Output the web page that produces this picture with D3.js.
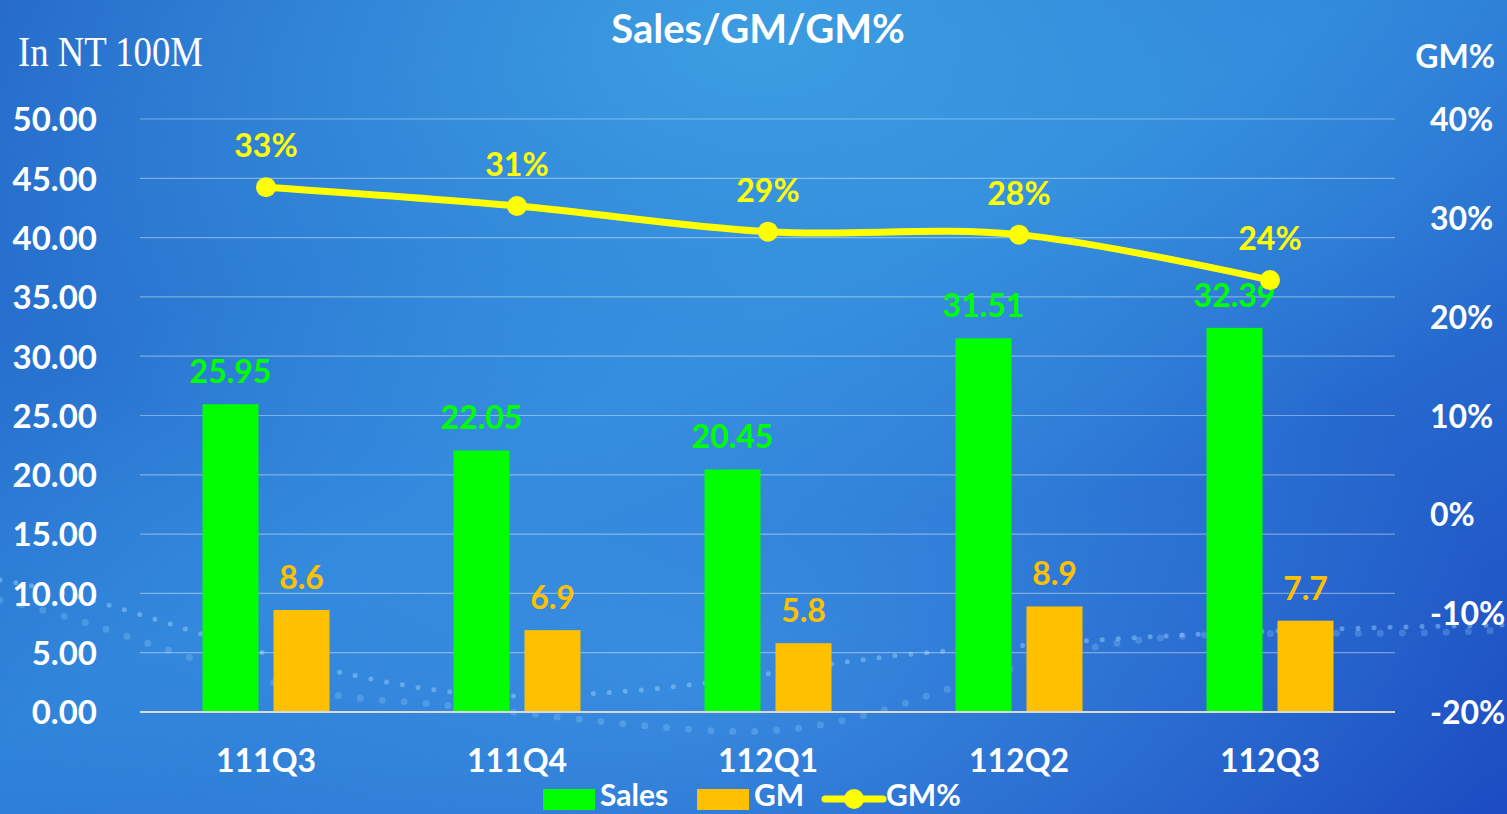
<!DOCTYPE html>
<html>
<head>
<meta charset="utf-8">
<script src="https://cdn.jsdelivr.net/npm/d3@7"></script>
<style>
html,body{margin:0;padding:0;overflow:hidden;background:#2a74d2;}
svg{display:block;}
</style>
</head>
<body>
<svg id="chart" width="1507" height="814"></svg>
<script>
const categories = ["111Q3","111Q4","112Q1","112Q2","112Q3"];
const sales = [25.95, 22.05, 20.45, 31.51, 32.39];
const gm = [8.6, 6.9, 5.8, 8.9, 7.7];
const gmPct = [0.331, 0.312, 0.286, 0.283, 0.237];
const leftTicks = [0,5,10,15,20,25,30,35,40,45,50];
const rightTicks = [-0.2,-0.1,0,0.1,0.2,0.3,0.4];
const seriesNames = ["Sales","GM"];

const W = 1507, H = 814;
const svg = d3.select("#chart");
const defs = svg.append("defs");
const pct = d => d3.format(".0%")(d).replace("\u2212","-");

// background
const lg = defs.append("linearGradient").attr("id","bg").attr("x1",0).attr("y1",0).attr("x2",1).attr("y2",1);
lg.append("stop").attr("offset","0%").attr("stop-color","#2262c6");
lg.append("stop").attr("offset","45%").attr("stop-color","#2d80d8");
lg.append("stop").attr("offset","100%").attr("stop-color","#1d4cc2");
svg.append("rect").attr("width",W).attr("height",H).attr("fill","url(#bg)");
const rg = defs.append("radialGradient").attr("id","glow").attr("cx","0.5").attr("cy","0.05").attr("r","0.6");
rg.append("stop").attr("offset","0%").attr("stop-color","#3ea2e4").attr("stop-opacity",0.9);
rg.append("stop").attr("offset","100%").attr("stop-color","#3ea2e4").attr("stop-opacity",0);
svg.append("rect").attr("width",W).attr("height",H).attr("fill","url(#glow)");
const rg2 = defs.append("radialGradient").attr("id","glow2").attr("cx","0.45").attr("cy","0.82").attr("r","0.55");
rg2.append("stop").attr("offset","0%").attr("stop-color","#46a6ec").attr("stop-opacity",0.55);
rg2.append("stop").attr("offset","100%").attr("stop-color","#46a6ec").attr("stop-opacity",0);
svg.append("rect").attr("width",W).attr("height",H).attr("fill","url(#glow2)");
// decorative dotted waves
const deco = svg.append("g").attr("fill","none").attr("stroke","#9fd8ff").attr("stroke-linecap","round");
deco.append("path").attr("d","M0,580 C120,600 200,640 330,670 S520,700 640,690 S820,660 960,650 S1200,630 1507,625")
  .attr("stroke-width",5).attr("stroke-dasharray","0 16").attr("opacity",0.45);
deco.append("path").attr("d","M0,600 C140,630 240,690 380,700 S560,720 700,730 S900,700 1040,660 S1300,640 1507,630")
  .attr("stroke-width",7).attr("stroke-dasharray","0 22").attr("opacity",0.25);

// scales
const x0 = d3.scaleBand().domain(categories).range([140.5, 1395.5]).padding(0);
const x1 = d3.scaleBand().domain(seriesNames).range([-63.5, 63.5]).paddingInner(15/71).paddingOuter(0);
const yL = d3.scaleLinear().domain([0,50]).range([712,119]);
const yR = d3.scaleLinear().domain([-0.2,0.4]).range([712,119]);

const font = "Lato, 'Open Sans', sans-serif";

// gridlines
svg.append("g").selectAll("line").data(leftTicks.filter(d=>d>0)).join("line")
  .attr("x1",140).attr("x2",1395).attr("y1",d=>yL(d)).attr("y2",d=>yL(d))
  .attr("stroke","rgba(255,255,255,0.38)").attr("stroke-width",1.2);

// left axis
const gL = svg.append("g").attr("transform","translate(97,0)")
  .call(d3.axisLeft(yL).tickValues(leftTicks).tickFormat(d3.format(".2f")).tickSize(0).tickPadding(0));
gL.select(".domain").remove();
gL.selectAll("text").attr("fill","#fff").style("font-family",font).style("font-weight","700").style("font-size","33px").attr("dy","0.36em");

// right axis
const gR = svg.append("g").attr("transform","translate(1430,0)")
  .call(d3.axisRight(yR).tickValues(rightTicks).tickFormat(pct).tickSize(0).tickPadding(0));
gR.select(".domain").remove();
gR.selectAll("text").attr("fill","#fff").style("font-family",font).style("font-weight","700").style("font-size","32px").attr("dy","0.36em");

// bars
const groups = svg.append("g").selectAll("g").data(categories).join("g")
  .attr("transform",d=>`translate(${x0(d)+x0.bandwidth()/2},0)`);
groups.append("rect").attr("x",x1("Sales")).attr("width",x1.bandwidth())
  .attr("y",(d,i)=>yL(sales[i])).attr("height",(d,i)=>yL(0)-yL(sales[i])).attr("fill","#00ff00");
groups.append("rect").attr("x",x1("GM")).attr("width",x1.bandwidth())
  .attr("y",(d,i)=>yL(gm[i])).attr("height",(d,i)=>yL(0)-yL(gm[i])).attr("fill","#ffc000");

// baseline
svg.append("line").attr("x1",140).attr("x2",1395).attr("y1",yL(0)).attr("y2",yL(0))
  .attr("stroke","#d9d9d9").attr("stroke-width",2);

// bar labels
groups.append("text").attr("x",x1("Sales")+x1.bandwidth()/2).attr("y",(d,i)=>yL(sales[i])-21)
  .attr("text-anchor","middle").attr("fill","#00ff00").style("font-family",font).style("font-weight","700").style("font-size","32px")
  .text((d,i)=>sales[i].toFixed(2));
groups.append("text").attr("x",x1("GM")+x1.bandwidth()/2).attr("y",(d,i)=>yL(gm[i])-21)
  .attr("text-anchor","middle").attr("fill","#ffc000").style("font-family",font).style("font-weight","700").style("font-size","32px")
  .text((d,i)=>gm[i].toFixed(1));

// line
const cx = d => x0(d)+x0.bandwidth()/2;
const line = d3.line().x((d,i)=>cx(categories[i])).y(d=>yR(d)).curve(d3.curveCatmullRom.alpha(0));
svg.append("path").datum(gmPct).attr("d",line).attr("fill","none").attr("stroke","#ffff00").attr("stroke-width",7).attr("stroke-linecap","round");
svg.append("g").selectAll("circle").data(gmPct).join("circle")
  .attr("cx",(d,i)=>cx(categories[i])).attr("cy",d=>yR(d)).attr("r",10).attr("fill","#ffff00");
svg.append("g").selectAll("text").data(gmPct).join("text")
  .attr("x",(d,i)=>cx(categories[i])).attr("y",d=>yR(d)-30)
  .attr("text-anchor","middle").attr("fill","#ffff00").style("font-family",font).style("font-weight","700").style("font-size","32px")
  .text(d=>pct(d));

// category axis
const gX = svg.append("g").attr("transform",`translate(0,${yL(0)})`)
  .call(d3.axisBottom(x0).tickSize(0).tickPadding(0));
gX.select(".domain").remove();
gX.selectAll("text").attr("fill","#fff").style("font-family",font).style("font-weight","700").style("font-size","32px").attr("dy","0").attr("y",60);

// titles
svg.append("text").attr("x",758).attr("y",43).attr("text-anchor","middle").attr("fill","#fff")
  .style("font-family",font).style("font-weight","700").style("font-size","40px").text("Sales/GM/GM%");
svg.append("text").attr("x",18).attr("y",66).attr("fill","#fff")
  .style("font-family","'Liberation Serif', 'DejaVu Serif', serif").style("font-size","43px")
  .attr("textLength",185).attr("lengthAdjust","spacingAndGlyphs").text("In NT 100M");
svg.append("text").attr("x",1495).attr("y",68).attr("text-anchor","end").attr("fill","#fff")
  .style("font-family",font).style("font-weight","700").style("font-size","32px").text("GM%");

// legend
const leg = svg.append("g");
leg.append("rect").attr("x",543).attr("y",789).attr("width",52).attr("height",21).attr("fill","#00ff00");
leg.append("text").attr("x",600).attr("y",806).attr("fill","#fff").style("font-family",font).style("font-weight","700").style("font-size","30px").text("Sales");
leg.append("rect").attr("x",697).attr("y",789).attr("width",52).attr("height",21).attr("fill","#ffc000");
leg.append("text").attr("x",754).attr("y",806).attr("fill","#fff").style("font-family",font).style("font-weight","700").style("font-size","30px").text("GM");
leg.append("line").attr("x1",825).attr("x2",883).attr("y1",799).attr("y2",799).attr("stroke","#ffff00").attr("stroke-width",7).attr("stroke-linecap","round");
leg.append("circle").attr("cx",854).attr("cy",799).attr("r",10).attr("fill","#ffff00");
leg.append("text").attr("x",886).attr("y",806).attr("fill","#fff").style("font-family",font).style("font-weight","700").style("font-size","30px").text("GM%");
</script>
</body>
</html>
